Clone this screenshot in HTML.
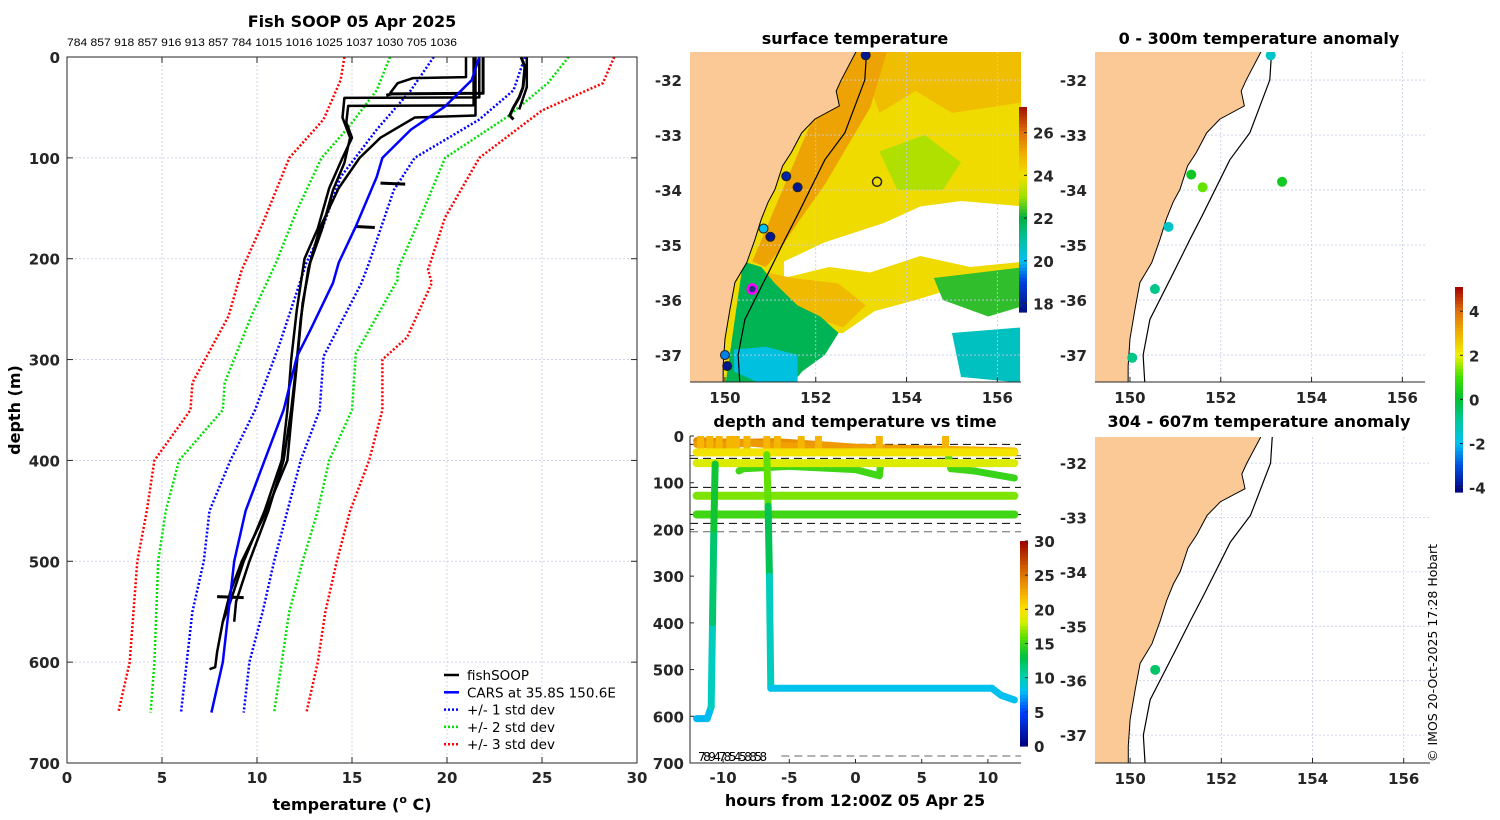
<!DOCTYPE html>
<html><head><meta charset="utf-8"><style>
html,body{margin:0;padding:0;background:#fff;width:1500px;height:820px;overflow:hidden}
svg{display:block;font-family:"DejaVu Sans","Liberation Sans",sans-serif}
.tk{font-size:15px;font-weight:bold;fill:#262626}
.tt{font-size:16px;font-weight:bold;fill:#000}
</style></head><body>
<svg id="fig" width="1500" height="820" viewBox="0 0 1500 820" xmlns="http://www.w3.org/2000/svg">
<defs>
<clipPath id="c1"><rect x="67" y="57" width="570" height="706"/></clipPath>
<clipPath id="c2"><rect x="690" y="52" width="331" height="330"/></clipPath>
<clipPath id="c3"><rect x="690" y="436" width="331" height="327"/></clipPath>
<clipPath id="c4"><rect x="1095" y="52" width="330" height="330"/></clipPath>
<clipPath id="c5"><rect x="1095" y="437" width="335" height="326"/></clipPath>
</defs>
<text class="tt" x="352" y="27" text-anchor="middle" font-size="17">Fish SOOP 05 Apr 2025</text>
<text x="67" y="46" font-size="11" textLength="390" lengthAdjust="spacingAndGlyphs" font-family="Liberation Sans, sans-serif">784 857 918 857 916 913 857 784 1015 1016 1025 1037 1030 705 1036</text>
<text class="tt" x="855" y="44" text-anchor="middle">surface temperature</text>
<text class="tt" x="855" y="427" text-anchor="middle">depth and temperature vs time</text>
<text class="tt" x="1259" y="44" text-anchor="middle">0 - 300m temperature anomaly</text>
<text class="tt" x="1259" y="427" text-anchor="middle">304 - 607m temperature anomaly</text>
<text class="tt" x="20" y="410" text-anchor="middle" transform="rotate(-90 20 410)">depth (m)</text>
<text class="tt" x="352" y="810" text-anchor="middle">temperature (<tspan font-size="11" dy="-7">o</tspan><tspan dy="7"> C)</tspan></text>
<text class="tt" x="855" y="806" text-anchor="middle">hours from 12:00Z 05 Apr 25</text>
<text x="1437" y="762" font-size="12.5" transform="rotate(-90 1437 762)" font-family="DejaVu Sans, sans-serif">© IMOS 20-Oct-2025 17:28 Hobart</text>
<g id="g1"></g><g id="g2"></g><g id="g3"></g><g id="g4"></g><g id="g5"></g>
</svg>
<script>
// ---------- profile panel data ----------
const carsDepths=[0,23,49,72,100,119,168,204,224,271,297,350,400,450,500,550,600,650];
const carsTemps=[21.7,21.3,19.9,18.1,16.6,16.3,15.2,14.3,14.0,12.8,12.1,11.4,10.4,9.4,8.8,8.5,8.2,7.6];
const sd1LeftD=[0,33,72,119,172,204,284,350,400,450,500,550,600,650];
const sd1Left=[19.3,18.1,16.3,14.4,13.4,12.6,11.2,9.9,8.6,7.5,7.2,6.6,6.3,6.0];
const sd1RightD=[0,33,62,100,132,204,224,297,350,400,450,500,550,600,650];
const sd1Right=[24.1,23.5,21.7,18.3,17.2,15.9,15.5,13.5,13.3,12.3,11.6,10.9,10.3,9.6,9.3];
const sd2LeftD=[0,33,70,100,152,204,257,323,350,400,450,500,550,600,650];
const sd2Left=[17.0,16.3,14.8,13.4,12.1,11.0,9.7,8.3,8.2,5.9,5.2,4.8,4.7,4.6,4.4];
const sd2RightD=[0,26,59,100,159,211,221,294,350,400,450,500,550,600,650];
const sd2Right=[26.4,25.3,23.2,19.9,18.6,17.4,17.4,15.2,15.0,13.8,13.2,12.4,11.7,11.3,10.9];
const sd3LeftD=[0,23,62,100,165,211,257,323,350,400,450,500,550,600,650];
const sd3Left=[14.6,14.4,13.5,11.7,10.3,9.2,8.5,6.6,6.5,4.6,4.2,3.7,3.5,3.3,2.7];
const sd3RightD=[0,26,53,100,159,211,224,278,300,350,400,450,500,550,600,650];
const sd3Right=[28.8,28.2,25.0,21.7,19.9,19.0,19.2,17.9,16.6,16.6,15.9,14.9,14.2,13.6,13.2,12.6];
const profADepths=[0,40,40.5,60,80,105,132,172,204,244,284,323,360,400,450,500,530,560,590,605,607];
const profATemps=[21.7,21.7,14.6,14.5,14.9,14.6,14.0,13.4,12.8,12.4,12.2,12.0,11.8,11.6,10.5,9.2,8.6,8.2,7.9,7.8,7.5];
const profBDepths=[0,48,48.5,65,80,100,130,170,200,250,300,350,400,450,500,540,560];
const profBTemps=[21.4,21.4,14.8,14.7,15.0,14.5,13.8,13.2,12.5,12.1,11.8,11.6,11.3,10.4,9.3,8.6,8.2];
const profCDepths=[0,58,60,80,100,130,170,210,260,300,350,400,450,500,540,560];
const profCTemps=[21.5,21.5,18.3,16.5,15.4,14.3,13.3,12.7,12.3,12.1,11.8,11.4,10.6,9.6,8.9,8.8];
const profDDepths=[0,20,21,26,36];
const profDTemps=[21.0,21.0,18.2,17.4,17.0];
const profEDepths=[0,36,36.5,38];
const profETemps=[21.9,21.9,17.1,16.8];
const profFDepths=[0,10,30,40,50,58,62];
const profFTemps=[23.9,24.1,24.0,23.8,23.5,23.3,23.5];
const profGDepths=[0,30,52];
const profGTemps=[24.2,24.2,23.8];
const blobDepths=[125,168,535];
const blobFrom=[16.5,15.2,7.9];
const blobTo=[17.8,16.2,9.3];
// ---------- time panel data ----------
const trackHours1=[-12,-11.2,-10.9,-10.8,-10.7,-10.6];
const trackDepth1=[605,605,580,400,200,60];
const trackTemp1=[7.8,7.8,8.0,11,12.5,14.5];
const trackHours2=[-8.8,-8.5,-5,0,1.8,1.9];
const trackDepth2=[75,70,65,72,85,60];
const trackTemp2=[15,15,15,15,15,15];
const trackHours3=[-6.7,-6.6,-6.5,-6.4,10.3,11,12];
const trackDepth3=[40,150,300,540,540,555,565];
const trackTemp3=[18,14,11,8.2,8.2,8.0,8.0];
const trackHours4=[7,7.2,9,12];
const trackDepth4=[40,70,75,90];
const trackTemp4=[16,15,15,14.5];
const trackHours5=[-12,-10,-8,-6,-4,-2,0,2,4,6,8,10,12];
const trackDepth5=[18,20,15,20,22,20,28,30,35,32,30,32,35];
const trackTemp5=[23.5,23,23.5,23,23,23.5,23,23,23,22.5,22,22.5,22];
const trackHours6=[-12,-9,-6,-3,0,3,6,9,12];
const trackDepth6=[10,14,12,18,24,26,28,30,32];
const trackTemp6=[24,24,24,23.5,23.5,23,23,23,23];
const levelDepths=[35,58,128,168];
const levelTemps=[19.5,18.5,16.5,15];
const spikeHours=[-11.7,-11,-10.3,-9.5,-9,-8.2,-6.7,-5.9,-4.1,-2.8,1.8,6.8];
const dashDepths=[18,42,48,110,168,187,205];
// ---------- map data ----------
const coastLon=[152.89,152.56,152.45,152.52,151.98,151.69,151.46,151.27,151.1,150.95,150.8,150.66,150.48,150.22,150.11,150.0,149.96,149.96];
const coastLat=[-31.48,-32,-32.2,-32.47,-32.71,-32.96,-33.32,-33.56,-33.99,-34.22,-34.53,-34.9,-35.32,-35.68,-36.17,-36.71,-37.2,-37.55];
const shelfLon=[153.12,153.08,152.64,152.2,151.6,151.32,150.99,150.44,150.29,150.33];
const shelfLat=[-31.48,-32,-32.96,-33.45,-34.45,-34.9,-35.45,-36.35,-37,-37.55];
const sstStnLon=[153.1,151.35,151.6,151.0,150.05,150.85,150.0];
const sstStnLat=[-31.55,-33.75,-33.95,-34.85,-37.2,-34.7,-37.0];
const sstStnTemp=[17.8,18.2,17.8,17.8,17.8,20,19.5];
const anomLon=[153.1,151.35,151.6,153.35,150.85,150.55,150.05];
const anomLat=[-31.55,-33.72,-33.95,-33.85,-34.67,-35.8,-37.05];
const anomVal=[-1.5,0.2,1.2,0.3,-1.5,-0.8,-0.8];
const anom2Lon=[150.55];
const anom2Lat=[-35.8];
const anom2Val=[-0.5];

const NS='http://www.w3.org/2000/svg';
function mk(parent,tag,at){const e=document.createElementNS(NS,tag);for(const k in at)e.setAttribute(k,at[k]);parent.appendChild(e);return e;}
function lerpCol(stops,v){if(v<=stops[0][0])return stops[0][1];for(let i=1;i<stops.length;i++){if(v<=stops[i][0]){const a=stops[i-1],b=stops[i],f=(v-a[0])/(b[0]-a[0]);const c1=a[1].match(/\w\w/g).map(h=>parseInt(h,16)),c2=b[1].match(/\w\w/g).map(h=>parseInt(h,16));return 'rgb('+c1.map((c,j)=>Math.round(c+(c2[j]-c)*f)).join(',')+')';}}return stops[stops.length-1][1];}
const jet=[[0,'#00007f'],[5,'#0040ff'],[8,'#00c0f0'],[10,'#00d0b0'],[13,'#00c040'],[16,'#60e000'],[18,'#d0f000'],[20,'#ffe000'],[23,'#f0a000'],[26,'#d06000'],[30,'#a00000']];
const sstCm=[[17.6,'#00107f'],[19,'#0040e0'],[20,'#00c0f0'],[21,'#00c0a0'],[22,'#00b040'],[23,'#a0e000'],[24,'#f0e000'],[25,'#f0b000'],[26,'#e07010'],[27.2,'#a01000']];
const anCm=[[-4.2,'#00007f'],[-3,'#0050e0'],[-2,'#00c0f0'],[-1,'#00c8a0'],[0,'#00c030'],[1,'#40e000'],[2,'#f0f000'],[3,'#f0b000'],[4,'#e07010'],[5.1,'#a00000']];

// ================= panel 1 =================
const g1=document.getElementById('g1');
const px=t=>67+t*19, py=d=>57+d*706/700;
for(let t=5;t<30;t+=5){const l=mk(g1,'line',{x1:px(t),x2:px(t),y1:57,y2:763,stroke:'#c8cce8','stroke-dasharray':'2 2','stroke-width':0.8});

}
for(let d=100;d<700;d+=100){const l=mk(g1,'line',{x1:67,x2:637,y1:py(d),y2:py(d),stroke:'#c8cce8','stroke-dasharray':'2 2','stroke-width':0.8});

}
const cl1=mk(g1,'g',{'clip-path':'url(#c1)'});


function pline(ts,ds,col,w,dash,name){const p=mk(cl1,'polyline',{points:ts.map((t,i)=>px(t)+','+py(ds[i])).join(' '),fill:'none',stroke:col,'stroke-width':w,'stroke-linejoin':'round'});if(dash)p.setAttribute('stroke-dasharray',dash);

return p;}
pline(sd3Left,sd3LeftD,'#ff0000',2.5,'2 2','sd3-left');
pline(sd3Right,sd3RightD,'#ff0000',2.5,'2 2','sd3-right');
pline(sd2Left,sd2LeftD,'#00e000',2.5,'2 2','sd2-left');
pline(sd2Right,sd2RightD,'#00e000',2.5,'2 2','sd2-right');
pline(sd1Left,sd1LeftD,'#0000ff',2.5,'2 2','sd1-left');
pline(sd1Right,sd1RightD,'#0000ff',2.5,'2 2','sd1-right');
pline(profATemps,profADepths,'#000',2.5,null,'fishsoop-profile-a');
pline(profBTemps,profBDepths,'#000',2.5,null,'fishsoop-profile-b');
pline(profCTemps,profCDepths,'#000',2.5,null,'fishsoop-profile-c');
pline(profDTemps,profDDepths,'#000',2.5,null,'fishsoop-profile-d');
pline(profETemps,profEDepths,'#000',3,null,'fishsoop-profile-e');
pline(profFTemps,profFDepths,'#000',3,null,'fishsoop-profile-f');
pline(profGTemps,profGDepths,'#000',2.5,null,'fishsoop-profile-g');
blobDepths.forEach((d,i)=>{pline([blobFrom[i],blobTo[i]],[d,d+1],'#000',3,null,'fishsoop-fragment');});
pline(carsTemps,carsDepths,'#0000ff',2.5,null,'cars-mean');
const fr1=mk(g1,'rect',{x:67,y:57,width:570,height:706,fill:'none',stroke:'#262626','stroke-width':1});


for(let t=0;t<=30;t+=5){const l=mk(g1,'line',{x1:px(t),x2:px(t),y1:763,y2:757,stroke:'#262626'});


const l2=mk(g1,'line',{x1:px(t),x2:px(t),y1:57,y2:63,stroke:'#262626'});


const tx=mk(g1,'text',{x:px(t),y:783,'text-anchor':'middle',class:'tk'});tx.textContent=t;

}
for(let d=0;d<=700;d+=100){const l=mk(g1,'line',{x1:67,x2:73,y1:py(d),y2:py(d),stroke:'#262626'});


const l2=mk(g1,'line',{x1:631,x2:637,y1:py(d),y2:py(d),stroke:'#262626'});


const tx=mk(g1,'text',{x:60,y:py(d)+6,'text-anchor':'end',class:'tk'});tx.textContent=d;

}
// legend
const legItems=[['fishSOOP','#000',null],['CARS at 35.8S 150.6E','#0000ff',null],['+/- 1 std dev','#0000ff','2 2'],['+/- 2 std dev','#00e000','2 2'],['+/- 3 std dev','#ff0000','2 2']];
const leg=mk(g1,'g',{});


legItems.forEach((it,i)=>{const y=675+i*17.3;const l=mk(leg,'line',{x1:444,x2:459,y1:y,y2:y,stroke:it[1],'stroke-width':2.5});if(it[2])l.setAttribute('stroke-dasharray',it[2]);


const t=mk(leg,'text',{x:467,y:y+5,'font-size':13.5,fill:'#000'});t.textContent=it[0];

});

// ================= map helpers =================
function drawMap(g,clip,x0,x1,y0,y1,lonX,latY,opts){
  const cg=mk(g,'g',{'clip-path':'url(#'+clip+')'});
  
  
  if(opts.sst){opts.sst(cg);}
  for(let lo=150;lo<=156;lo+=2){const l=mk(cg,'line',{x1:lonX(lo),x2:lonX(lo),y1:y0,y2:y1,stroke:'#c8cce8','stroke-dasharray':'2 2','stroke-width':0.8});
  
  }
  for(let la=-32;la>=-37;la--){const l=mk(cg,'line',{x1:x0,x2:x1,y1:latY(la),y2:latY(la),stroke:'#c8cce8','stroke-dasharray':'2 2','stroke-width':0.8});
  
  }
  const land=coastLon.map((lo,i)=>lonX(lo)+','+latY(coastLat[i])).concat([lonX(149)+','+latY(-37.6),lonX(149)+','+latY(-31.4)]);
  const lp=mk(cg,'polygon',{points:land.join(' '),fill:'#fbc995',stroke:'#000','stroke-width':1});
  
  
  const sp=mk(cg,'polyline',{points:shelfLon.map((lo,i)=>lonX(lo)+','+latY(shelfLat[i])).join(' '),fill:'none',stroke:'#000','stroke-width':1.2});
  
  
  if(opts.marks)opts.marks(cg);
  const ax=mk(g,'line',{x1:x0,x2:x1,y1:y1,y2:y1,stroke:'#262626'});
  
  
  for(let lo=150;lo<=156;lo+=2){const t=mk(g,'text',{x:lonX(lo),y:y1+21,'text-anchor':'middle',class:'tk'});t.textContent=lo;
  
  
  const k=mk(g,'line',{x1:lonX(lo),x2:lonX(lo),y1:y1,y2:y1-5,stroke:'#262626'});
  
  }
  for(let la=-32;la>=-37;la--){const t=mk(g,'text',{x:x0-8,y:latY(la)+6,'text-anchor':'end',class:'tk'});t.textContent=la;
  
  }
}
function colorbar(g,x,yTop,yBot,vTop,vBot,cm,ticks,name){
  const n=60,h=(yBot-yTop)/n;
  for(let i=0;i<n;i++){const v=vTop-(i+0.5)/n*(vTop-vBot);const r=mk(g,'rect',{x:x,y:yTop+i*h,width:8,height:h+0.6,fill:lerpCol(cm,v)});
  
  }
  ticks.forEach(v=>{const y=yTop+(vTop-v)/(vTop-vBot)*(yBot-yTop);const t=mk(g,'text',{x:x+14,y:y+6,class:'tk'});t.textContent=v;
  
  
  const k=mk(g,'line',{x1:x+5,x2:x+8,y1:y,y2:y,stroke:'#262626'});
  
  });
}
function pts(arrLon,arrLat,lonX,latY){return arrLon.map((lo,i)=>lonX(lo)+','+latY(arrLat[i])).join(' ');}

// ================= SST map =================
const g2=document.getElementById('g2');
const sX=lo=>690+(lo-149.23)*45.4, sY=la=>52+(-31.49-la)*55;
const sstRegions=[
 {lon:[149,157,157,149],lat:[-31.4,-31.4,-37.6,-37.6],t:24.1,n:'sst-offshore'},
 {lon:[152.9,156.6,156.6,155,154.2,153.4],lat:[-31.4,-31.4,-32.4,-32.6,-32.2,-32.6],t:24.7,n:'sst-ne-warm'},
 {lon:[152.6,153.6,153.2,152.7,152.2,151.6,151.2,150.9,150.6],lat:[-31.4,-31.4,-32.5,-33.2,-33.9,-34.6,-35.1,-35.4,-35.3],t:25.2,n:'sst-coastal-warm'},
 {lon:[153.4,154.4,155.2,154.8,153.8],lat:[-33.3,-33.0,-33.5,-34.0,-34.0],t:23.2,n:'sst-eddy-core'},
 {lon:[151.3,152.2,153.5,154.3,155.2,156.6,156.6,155.4,154.3,153.2,152.3,151.3],lat:[-35.3,-34.95,-34.6,-34.3,-34.2,-34.3,-35.3,-35.4,-35.2,-35.5,-35.4,-35.6],t:null,n:'sst-cloud-north'},
 {lon:[151.7,152.6,153.3,154.2,155.0,156.6,156.6,151.5],lat:[-36.6,-36.6,-36.2,-36.0,-35.8,-35.6,-37.6,-37.6],t:null,n:'sst-cloud-south'},
 {lon:[154.6,156.6,156.6,155.8,154.8],lat:[-35.6,-35.4,-36.1,-36.3,-36.0],t:22.3,n:'sst-south-green'},
 {lon:[155.0,156.5,156.5,155.2],lat:[-36.6,-36.5,-37.5,-37.4],t:20.6,n:'sst-south-cool'},
 {lon:[150.9,151.5,152.5,153.1,152.6,151.9,151.1],lat:[-35.5,-35.6,-35.7,-36.1,-36.5,-36.3,-35.9],t:24.8,n:'sst-tongue'},
 {lon:[150.4,150.8,151.1,151.6,152.1,152.5,152.2,151.7,151.4,150],lat:[-35.3,-35.4,-35.7,-36.1,-36.3,-36.6,-37.0,-37.3,-37.6,-37.6],t:21.8,n:'sst-coastal-cool'},
 {lon:[150.2,150.9,151.6,151.6,151.0,150.2],lat:[-36.9,-36.85,-37.0,-37.6,-37.6,-37.3],t:20.2,n:'sst-cold-patch'}
];
drawMap(g2,'c2',690,1021,52,382,sX,sY,{name:'sst-map',
 sst:cg=>{sstRegions.forEach(r=>{const p=mk(cg,'polygon',{points:pts(r.lon,r.lat,sX,sY),fill:r.t===null?'#ffffff':lerpCol(sstCm,r.t)});
 
 });},
 marks:cg=>{sstStnLon.forEach((lo,i)=>{const c=mk(cg,'circle',{cx:sX(lo),cy:sY(sstStnLat[i]),r:4.5,fill:lerpCol(sstCm,sstStnTemp[i]),stroke:'#222','stroke-width':1});
 
 });
 const m=mk(cg,'circle',{cx:sX(150.6),cy:sY(-35.8),r:4.5,fill:'#203080',stroke:'#ff00ff','stroke-width':2.5});
 
 
 const y=mk(cg,'circle',{cx:sX(153.35),cy:sY(-33.85),r:4.5,fill:'none',stroke:'#222','stroke-width':1.5});
 
 }
});
colorbar(g2,1019,107,312,27.2,17.6,sstCm,[18,20,22,24,26],'sst-colorbar');

// ================= time panel =================
const g3=document.getElementById('g3');
const hx=h=>690+(h+12.5)*13.24, hy=d=>436+d*327/700;
const cl3=mk(g3,'g',{'clip-path':'url(#c3)'});


dashDepths.forEach(d=>{const l=mk(cl3,'line',{x1:690,x2:1021,y1:hy(d),y2:hy(d),stroke:(d===42||d===205)?'#666':'#000','stroke-dasharray':'8 5','stroke-width':1});

});
function track(hs,ds,ts,w,name){for(let i=0;i<hs.length-1;i++){const l=mk(cl3,'line',{x1:hx(hs[i]),y1:hy(ds[i]),x2:hx(hs[i+1]),y2:hy(ds[i+1]),stroke:lerpCol(jet,(ts[i]+ts[i+1])/2),'stroke-width':w,'stroke-linecap':'round'});

}}
track(trackHours6,trackDepth6,trackTemp6,7,'surface-track-2');
track(trackHours5,trackDepth5,trackTemp5,7,'surface-track');
spikeHours.forEach(h=>{track([h,h],[2,28],[21.5,22.5],7,'surface-spike');});
track(trackHours2,trackDepth2,trackTemp2,7,'mid-track');
track(trackHours4,trackDepth4,trackTemp4,7,'late-track');
levelDepths.forEach((d,i)=>{track([-12,12],[d,d],[levelTemps[i],levelTemps[i]],8,'constant-depth-track');});
track(trackHours1,trackDepth1,trackTemp1,7,'deep-track-1');
track(trackHours3,trackDepth3,trackTemp3,7,'deep-track-2');
const dl=mk(cl3,'line',{x1:hx(-5.6),x2:1021,y1:hy(685),y2:hy(685),stroke:'#666','stroke-dasharray':'8 5'});


const ids=mk(g3,'text',{x:hx(-11.9),y:hy(685)+5,'font-size':12,'letter-spacing':'-2.5'});ids.textContent='7894785458858';


const a3=mk(g3,'polyline',{points:'690,436 690,763 1021,763',fill:'none',stroke:'#262626'});


for(let d=0;d<=700;d+=100){const t=mk(g3,'text',{x:684,y:hy(d)+6,'text-anchor':'end',class:'tk'});t.textContent=d;


const k=mk(g3,'line',{x1:690,x2:694,y1:hy(d),y2:hy(d),stroke:'#262626'});

}
for(let h=-10;h<=10;h+=5){const t=mk(g3,'text',{x:hx(h),y:783,'text-anchor':'middle',class:'tk'});t.textContent=h;


const k=mk(g3,'line',{x1:hx(h),x2:hx(h),y1:763,y2:759,stroke:'#262626'});

}
colorbar(g3,1020,541,746,30,0,jet,[0,5,10,15,20,25,30],'time-colorbar');

// ================= anomaly maps =================
const g4=document.getElementById('g4');
const aX=lo=>1095+(lo-149.23)*45.4, aY=la=>52+(-31.49-la)*55;
drawMap(g4,'c4',1095,1425,52,382,aX,aY,{name:'anomaly-shallow-map',
 marks:cg=>{anomLon.forEach((lo,i)=>{const c=mk(cg,'circle',{cx:aX(lo),cy:aY(anomLat[i]),r:5,fill:lerpCol(anCm,anomVal[i])});
 
 });}});
colorbar(g4,1455,287,492,5.1,-4.2,anCm,[4,2,0,-2,-4],'anomaly-colorbar');
const g5=document.getElementById('g5');
const bX=lo=>1095+(lo-149.23)*45.6, bY=la=>437+(-31.52-la)*54.4;
drawMap(g5,'c5',1095,1430,437,763,bX,bY,{name:'anomaly-deep-map',
 marks:cg=>{anom2Lon.forEach((lo,i)=>{const c=mk(cg,'circle',{cx:bX(lo),cy:bY(anom2Lat[i]),r:5,fill:lerpCol(anCm,anom2Val[i])});
 
 });}});
</script>
</body></html>
